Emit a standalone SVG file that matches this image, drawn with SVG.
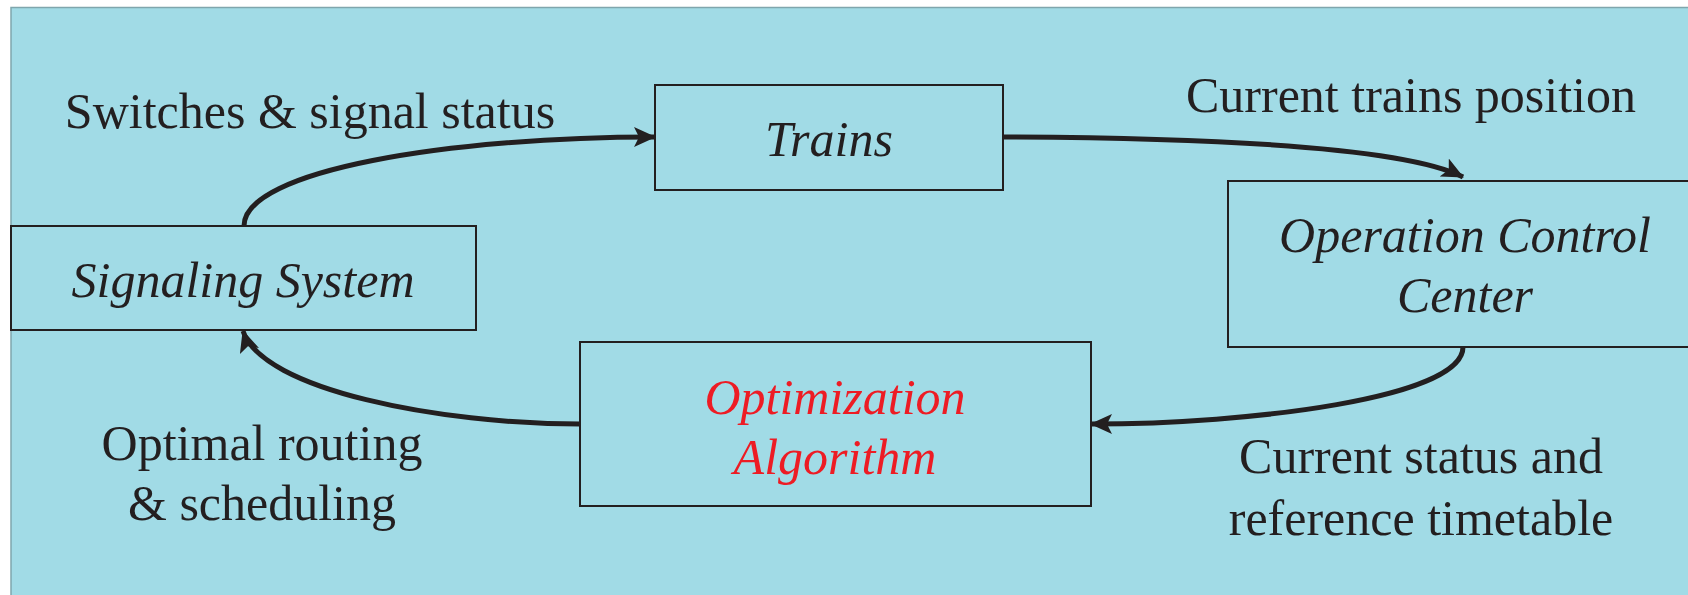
<svg xmlns="http://www.w3.org/2000/svg" width="1688" height="595" viewBox="0 0 1688 595">
  <style>
    .box { fill: none; stroke: #231f20; stroke-width: 2; }
    .lbl { font-family: "Liberation Serif", "Times New Roman", serif; font-size: 50px; fill: #231f20; text-anchor: middle; }
    .node { font-family: "Liberation Serif", "Times New Roman", serif; font-style: italic; font-size: 50px; fill: #231f20; text-anchor: middle; }
    .red { fill: #ed1c24; }
    .flow { fill: none; stroke: #231f20; stroke-width: 5; }
  </style>
  <defs>
    <marker id="arrow" viewBox="0 0 22 20" refX="21" refY="10" markerWidth="22" markerHeight="20" markerUnits="userSpaceOnUse" orient="auto">
      <path d="M0,0 L22,10 L0,20 L5,10 Z" fill="#231f20"/>
    </marker>
  </defs>

  <!-- page -->
  <rect x="0" y="0" width="1688" height="595" fill="#ffffff"/>
  <rect x="11" y="7.5" width="1680" height="590" fill="#a1dbe6" stroke="#7fa6ad" stroke-width="1.5"/>

  <g id="trains">
    <rect class="box" x="655" y="85" width="348" height="105"/>
    <text class="node" x="829" y="156">Trains</text>
  </g>

  <g id="occ">
    <rect class="box" x="1228" y="181" width="480" height="166"/>
    <text class="node" x="1465" y="252">Operation Control</text>
    <text class="node" x="1465" y="312">Center</text>
  </g>

  <g id="signaling">
    <rect class="box" x="11" y="226" width="465" height="104"/>
    <text class="node" x="243" y="297">Signaling System</text>
  </g>

  <g id="optimization">
    <rect class="box" x="580" y="342" width="511" height="164"/>
    <text class="node red" x="835" y="414">Optimization</text>
    <text class="node red" x="835" y="474">Algorithm</text>
  </g>

  <g id="connectors">
    <path class="flow" d="M244,226 C244,170 450,137 655,137" marker-end="url(#arrow)"/>
    <path class="flow" d="M1003,137 C1250,138 1410,150 1463,177" marker-end="url(#arrow)"/>
    <path class="flow" d="M1463,347 C1463,398 1250,424 1091,424" marker-end="url(#arrow)"/>
    <path class="flow" d="M580,424 C440,424 262,390 243,331" marker-end="url(#arrow)"/>
  </g>

  <g id="labels">
    <text class="lbl" x="310" y="128">Switches &amp; signal status</text>
    <text class="lbl" x="1411" y="112">Current trains position</text>
    <text class="lbl" x="262" y="460">Optimal routing</text>
    <text class="lbl" x="262" y="520">&amp; scheduling</text>
    <text class="lbl" x="1421" y="473">Current status and</text>
    <text class="lbl" x="1421" y="535">reference timetable</text>
  </g>
</svg>
